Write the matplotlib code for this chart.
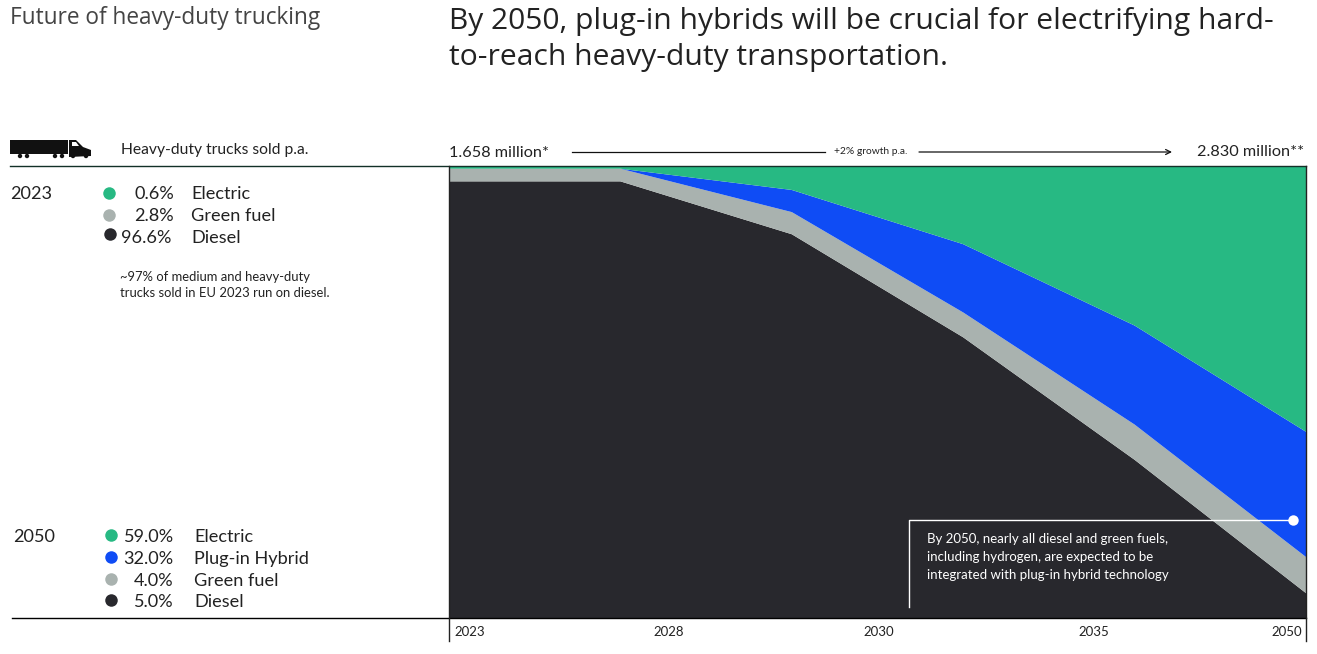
import matplotlib
matplotlib.use("Agg")
import matplotlib.pyplot as plt
from matplotlib.patches import Polygon, Rectangle, Circle

W, H = 1317, 654
C_EL, C_PH, C_GF, C_DI = "#27B983", "#0F4CF5", "#A9B2AF", "#28282D"

# data: share of sales (%) at the six drawn stages
stages = [0, 1, 2, 3, 4, 5]
diesel = [96.6, 96.6, 84.9, 62.1, 35.0, 5.5]
green = [2.8, 2.8, 4.9, 5.5, 7.8, 8.0]
hybrid = [0.0, 0.0, 4.9, 15.1, 21.9, 27.7]
electric = [0.6, 0.6, 5.3, 17.3, 35.3, 58.8]

tick_labels = ["2023", "2028", "2030", "2035", "2050"]
tick_pos = [0.12, 1.28, 2.51, 3.76, 4.89]

legend_2023 = [("0.6%", "Electric", C_EL), ("2.8%", "Green fuel", C_GF), ("96.6%", "Diesel", C_DI)]
legend_2050 = [("59.0%", "Electric", C_EL), ("32.0%", "Plug-in Hybrid", C_PH),
               ("4.0%", "Green fuel", C_GF), ("5.0%", "Diesel", C_DI)]

fig = plt.figure(figsize=(W / 100, H / 100), dpi=100, facecolor="white")
L, R, T, B = 449, 1306, 166, 618
ax = fig.add_axes([L / W, 1 - B / H, (R - L) / W, (B - T) / H])
ax.stackplot(stages, diesel, green, hybrid, electric,
             colors=[C_DI, C_GF, C_PH, C_EL], linewidth=0)
ax.set_xlim(0, 5)
ax.set_ylim(0, 100)
ax.set_yticks([])
ax.set_xticks(tick_pos)
ax.set_xticklabels(tick_labels, fontfamily="Lato", fontsize=9.5, color="#222222")
ax.tick_params(axis="x", length=0, pad=6)
for s in ax.spines.values():
    s.set_visible(False)

# overlay in pixel coordinates
ov = fig.add_axes([0, 0, 1, 1], facecolor="none")
ov.set_xlim(0, W)
ov.set_ylim(H, 0)
ov.axis("off")


def txt(x, y, s, size, font="Lato", color="#222222", ha="left", **kw):
    ov.text(x, y, s, fontsize=size, fontfamily=font, color=color, ha=ha, va="baseline", **kw)


txt(10, 24, "Future of heavy-duty trucking", 16.3, font="Open Sans", color="#444444")
txt(449, 29, "By 2050, plug-in hybrids will be crucial for electrifying hard-", 21.6, font="Open Sans")
txt(449, 65, "to-reach heavy-duty transportation.", 21.6, font="Open Sans")

txt(121, 154, "Heavy-duty trucks sold p.a.", 11.25)
txt(449, 157, "1.658 million*", 11.7)
txt(1197, 156, "2.830 million**", 11.7)
txt(871, 154, "+2% growth p.a.", 7.4, ha="center")

ov.plot([572, 825], [152, 152], color="#111111", lw=0.9)
ov.annotate("", xy=(1172, 152), xytext=(919, 152),
            arrowprops=dict(arrowstyle="->", color="#111111", lw=0.9, mutation_scale=9, shrinkA=0, shrinkB=0))

# frame lines
ov.plot([10, 1306], [166, 166], color="#123028", lw=1)
ov.plot([12, 1306], [618, 618], color="#000000", lw=1)
ov.plot([449, 449], [166, 617], color="#222222", lw=1)
ov.plot([1306, 1306], [166, 617], color="#222222", lw=1)
ov.plot([449, 449], [618, 641], color="#222222", lw=1)
ov.plot([1306, 1306], [618, 641], color="#222222", lw=1)

# truck icon
ov.add_patch(Rectangle((10, 140), 58, 14, color="#111111", lw=0))
ov.add_patch(Polygon([(69, 155), (69, 140), (76, 140), (83, 147), (91, 150), (91, 156), (69, 157)],
                     closed=True, color="#111111", lw=0))
ov.add_patch(Polygon([(72, 142), (76, 142), (79, 146), (72, 146)], closed=True, color="white", lw=0))
for cx in (20, 27, 55, 62, 73, 86):
    ov.add_patch(Circle((cx, 156), 2.2, color="#111111", lw=0))

# 2023 block
txt(10, 199, "2023", 13.05)
for (pct, name, col), y, dx, dotx in zip(legend_2023, (199, 221, 243), (174, 174, 171), (109, 109, 110)):
    txt(dx, y, pct, 13.05, ha="right")
    txt(191, y, name, 13.05)
    ov.plot(dotx, y - 6.5 if name != "Diesel" else y - 9, "o", ms=9, color=col, mew=0)
txt(120, 281, "~97% of medium and heavy-duty", 9.4)
txt(120, 297, "trucks sold in EU 2023 run on diesel.", 9.4)

# 2050 block
txt(13, 542, "2050", 13.05)
for (pct, name, col), y in zip(legend_2050, (542, 564, 586, 607)):
    txt(173, y, pct, 13.05, ha="right")
    txt(194, y, name, 13.05)
    ov.plot(111, y - 7, "o", ms=9, color=col, mew=0)

# callout
ov.plot([909, 909, 1293], [607, 520, 520], color="white", lw=1)
ov.plot(1293, 520, "o", ms=7.5, color="white", mew=0)
for y, s in zip((543, 561, 579), ("By 2050, nearly all diesel and green fuels,",
                                  "including hydrogen, are expected to be",
                                  "integrated with plug-in hybrid technology")):
    txt(927, y, s, 9.5, color="white")

fig.savefig("out.png", dpi=100)
